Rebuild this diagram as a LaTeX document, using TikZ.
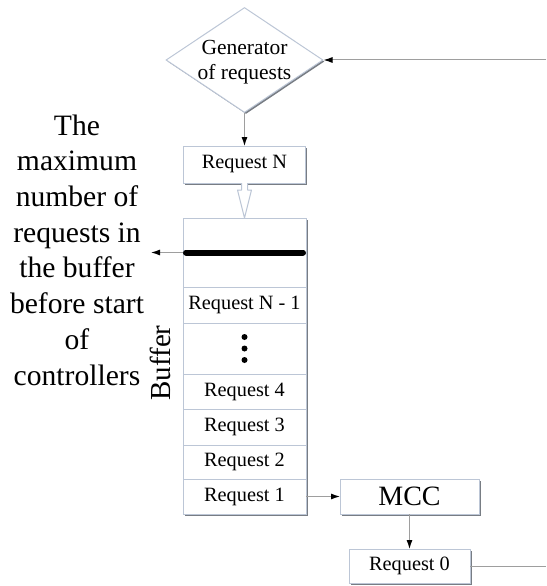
\documentclass[tikz,border=0pt]{standalone}
\usepackage{fontspec}
\setmainfont{Liberation Serif}
\usetikzlibrary{positioning,shapes.geometric,shadows,arrows.meta}

\definecolor{boxline}{RGB}{188,198,214}
\definecolor{boxshadow}{RGB}{120,125,132}
\definecolor{linkgray}{RGB}{158,158,158}

\begin{document}
\begin{tikzpicture}
  [x=1pt,y=-1pt
  ,box/.style={draw=boxline,fill=white,line width=1pt,inner sep=0pt,outer sep=0pt
    ,minimum width=123pt
    ,drop shadow={shadow xshift=1.5pt,shadow yshift=-1.5pt,fill=boxshadow,opacity=1}
    ,font=\fontsize{20.3}{22}\selectfont}
  ,link/.style={draw=linkgray,line width=1pt,-{Latex[length=9pt,width=6pt,color=black]}}
  ,plain/.style={draw=linkgray,line width=1pt}
  ,limit/.style={line width=6pt,line cap=round,shorten <=3pt,shorten >=3pt}
  ,hollow/.style={draw=boxline,fill=white,line width=1pt,line join=round}
  ]

  \useasboundingbox (0,0) rectangle (546,586);

  % Buffer cell
  %
  % #1 - name
  % #2 - cell above
  % #3 - height
  % #4 - text
  \newcommand{\bufcell}[4]{
    \node[box,minimum height=#3,below=0pt of #2] (#1) {#4};
  }

  % generator
  \node[diamond,draw=boxline,fill=white,line width=1pt,inner sep=0pt
    ,minimum width=157pt,minimum height=105pt
    ,drop shadow={shadow xshift=1.5pt,shadow yshift=-1.5pt,fill=boxshadow,opacity=1}]
    (gen) at (244.5,60) {};
  \node[align=center,font=\fontsize{21.5}{25}\selectfont] (gentext) at (244.5,62)
    {Generator\\of requests};

  % new request
  \node[box,minimum width=122pt,minimum height=37pt] (reqN) at (244.5,164.5) {Request N};

  % buffer
  \node[box,minimum height=69pt] (top) at (244.5,252.5) {};
  \bufcell{reqNm}{top}{36pt}{Request N - 1}
  \bufcell{dots}{reqNm}{51pt}{}
  \bufcell{req4}{dots}{35pt}{Request 4}
  \bufcell{req3}{req4}{36pt}{Request 3}
  \bufcell{req2}{req3}{34pt}{Request 2}
  \bufcell{req1}{req2}{35pt}{Request 1}

  \foreach \d in {-11.5,0,11.5}
    \fill (dots.center) ++(0,\d) circle (3pt);

  \draw[limit] (top.west) -- (top.east);

  % controllers
  \node[box,minimum width=139pt,minimum height=35pt,font=\fontsize{28}{30}\selectfont
    ,right=34pt of req1] (mcc) {MCC};
  \node[box,minimum width=121pt,minimum height=34pt,below=35pt of mcc] (req0) {Request 0};

  % labels
  \node[align=center,font=\fontsize{29.6}{35.7}\selectfont] (maxtext) at (77,250)
    {The\\maximum\\number of\\requests in\\the buffer\\before start\\of\\controllers};
  \node[rotate=90,font=\fontsize{29}{30}\selectfont] (buflabel) at (160,363) {Buffer};

  % connectors
  \coordinate (in) at (546,60);
  \coordinate (out) at (546,566);
  \coordinate (limtip) at (151,252.5);

  \draw[link] (in) -- (gen.east);
  \draw[link] (gen.south) -- (reqN.north);
  \draw[hollow] ([xshift=-3pt]reqN.south) -- ++(0,7) -- ++(-4,0) -- (top.north)
    -- ++(7,-28) -- ++(-4,0) -- ([xshift=3pt]reqN.south);
  \draw[link] (top.west) -- (limtip);
  \draw[link] (req1) -- (mcc);
  \draw[link] (mcc) -- (req0);
  \draw[plain] (req0.east) -- (out);

\end{tikzpicture}
\end{document}
